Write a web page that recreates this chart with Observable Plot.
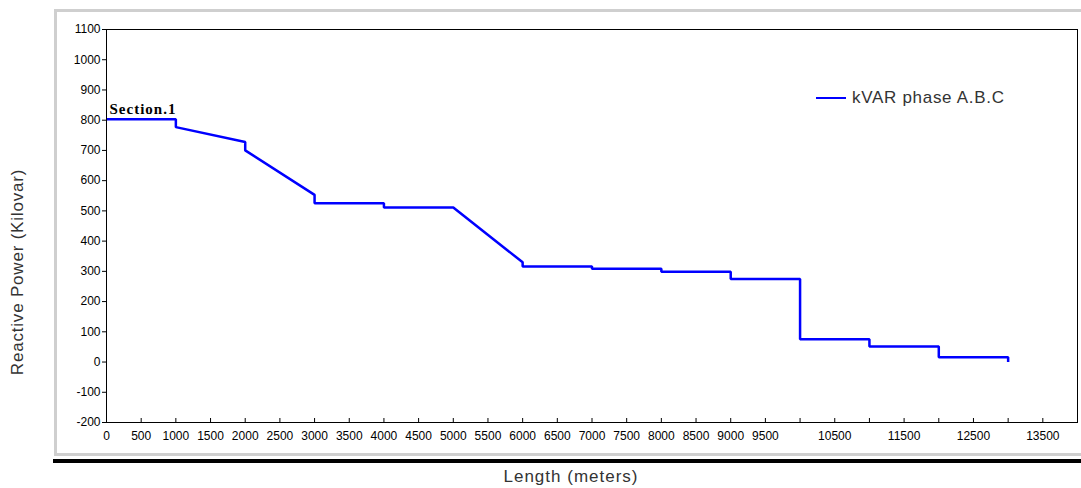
<!DOCTYPE html>
<html>
<head>
<meta charset="utf-8">
<script src="https://cdn.jsdelivr.net/npm/d3@7"></script>
<script src="https://cdn.jsdelivr.net/npm/@observablehq/plot@0.6"></script>
<style>
  body { margin: 0; background: #fff; }
  #chart { position: relative; width: 1081px; height: 488px; overflow: hidden; font-family: "Liberation Sans", Arial, sans-serif; }
  #chart svg { position: absolute; left: 0; top: 0; }
  .edge { position: absolute; }
  .gray { background: #cfcfcf; }
  #ytitle { position: absolute; left: 18px; top: 272px; transform: translate(-50%, -50%) rotate(-90deg); white-space: nowrap; font-size: 17px; letter-spacing: 0.8px; color: #333; }
  #xtitle { position: absolute; left: 571px; top: 477px; transform: translate(-50%, -50%); white-space: nowrap; font-size: 17px; letter-spacing: 1px; color: #333; }
  #legend { position: absolute; left: 816px; top: 88px; display: flex; align-items: center; font-size: 17px; letter-spacing: 0.7px; color: #333; white-space: nowrap; }
  #legend .swatch { width: 30px; height: 2.5px; background: #0000ff; margin-right: 6px; }
</style>
</head>
<body>
<div id="chart">
  <div class="edge gray" style="left:54px; top:9px; width:1027px; height:3px;"></div>
  <div class="edge gray" style="left:54px; top:9px; width:3px; height:447px;"></div>
  <div class="edge gray" style="left:54px; top:453px; width:1027px; height:3px;"></div>
  <div class="edge" style="left:53px; top:459px; width:1028px; height:4px; background:#000;"></div>
  <div id="ytitle">Reactive Power (Kilovar)</div>
  <div id="xtitle">Length (meters)</div>
  <div id="legend"><div class="swatch"></div><span>kVAR phase A.B.C</span></div>
</div>
<script>
// Reactive power along the feeder (kVAR, phases A, B, C), metres from the source
const lengthM = [0, 1000, 1000, 2000, 2000, 3000, 3000, 4000, 4000, 5000, 6000, 6000,
                 7000, 7000, 8000, 8000, 9000, 9000, 10000, 10000, 11000, 11000, 12000, 12000, 13000, 13000];
const kvar    = [803, 803, 777, 728, 700, 553, 525, 525, 511, 511, 330, 316,
                 316, 309, 309, 299, 299, 275, 275, 75, 75, 51, 51, 16, 16, 0];

// Section annotation
const sectionNames = ["Section.1"];
const sectionStart = [0];
const sectionKvar = [803];

// Axis ticks
const xTickMarks = d3.range(0, 13501, 500);
const xTickLabels = [0, 500, 1000, 1500, 2000, 2500, 3000, 3500, 4000, 4500, 5000, 5500, 6000,
                     6500, 7000, 7500, 8000, 8500, 9000, 9500, 10500, 11500, 12500, 13500];
const yTicks = d3.range(-200, 1101, 100);

const points = lengthM.map((x, i) => ({x, y: kvar[i]}));
const sections = sectionNames.map((name, i) => ({name, x: sectionStart[i], y: sectionKvar[i]}));

const chart = Plot.plot({
  width: 1081,
  height: 488,
  marginLeft: 106,
  marginRight: 4,
  marginTop: 29,
  marginBottom: 66,
  style: { background: "transparent", fontFamily: "'Liberation Sans', Arial, sans-serif", fontSize: "12px", color: "#000" },
  x: { domain: [0, 14000], label: null },
  y: { domain: [-200, 1100], label: null },
  marks: [
    Plot.axisY(yTicks, { tickSize: 4, tickPadding: 2, label: null, tickFormat: d => String(d) }),
    Plot.axisX(xTickMarks, { tickSize: -4, tickFormat: () => "", label: null }),
    Plot.axisX(xTickLabels, { tickSize: 0, tickPadding: 9, label: null, tickFormat: d => String(d) }),
    Plot.line(points, { x: "x", y: "y", stroke: "#0000ff", strokeWidth: 2.5, strokeLinejoin: "miter", strokeLinecap: "butt" }),
    Plot.text(sections, { x: "x", y: "y", text: "name", textAnchor: "start", lineAnchor: "bottom", dx: 3, dy: -5,
      fontFamily: "'Liberation Serif', 'Times New Roman', serif", fontWeight: "bold", fontSize: 15, fill: "#000",
      stroke: null }),
    Plot.frame({ stroke: "#000", strokeWidth: 1 })
  ]
});
chart.querySelectorAll("text").forEach(t => { if (t.textContent === "Section.1") t.style.letterSpacing = "1px"; });
document.getElementById("chart").prepend(chart);
</script>
</body>
</html>
